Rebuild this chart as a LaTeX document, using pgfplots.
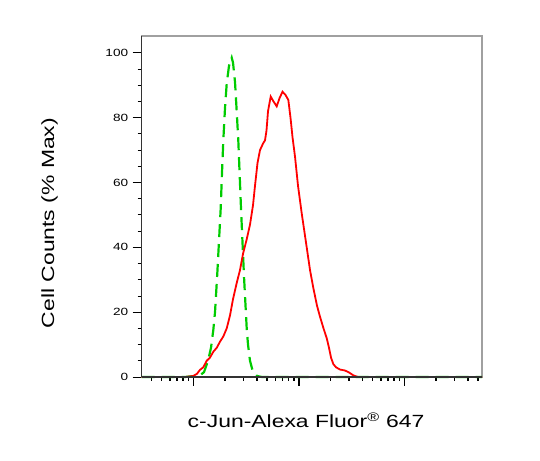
\documentclass[border=0pt]{standalone}
\usepackage{fontspec}
\setmainfont{Liberation Sans}[FakeStretch=1.3]
\usepackage{pgfplots}
\pgfplotsset{compat=1.18}
\definecolor{isogreen}{RGB}{0,204,0}
\definecolor{framegray}{RGB}{160,160,160}
\begin{document}
\begin{tikzpicture}[x=1bp,y=1bp]
\useasboundingbox (0,0) rectangle (540,461);
\begin{axis}[
  at={(141.7bp,84bp)}, anchor=origin,
  scale only axis, width=340.3bp, height=341bp,
  xmin=1.5109, xmax=4.7365, ymin=0, ymax=105.2,
  clip=false,
  axis line style={draw=framegray, line width=1.2pt},
  xtick={2,3,4},
  minor xtick={1.602,1.699,1.778,1.845,1.903,1.954,
    2.301,2.477,2.602,2.699,2.778,2.845,2.903,2.954,
    3.301,3.477,3.602,3.699,3.778,3.845,3.903,3.954,
    4.301,4.477,4.602,4.699},
  xticklabels={},
  ytick={0,20,40,60,80,100},
  minor ytick={5,10,15,25,30,35,45,50,55,65,70,75,85,90,95},
  tick align=outside,
  xtick pos=bottom, ytick pos=left,
  major tick length=9bp, minor tick length=4bp,
  every tick/.style={black, line width=0.9pt},
  x tick style={line width=1.6pt},
  every minor tick/.style={black, line width=0.9pt},
  /pgf/number format/assume math mode=true,
  yticklabel style={font=\fontsize{10.5}{12}\selectfont, xshift=-1bp},
]
\addplot[isogreen, line width=2.2bp, dash pattern=on 13bp off 7bp] coordinates {
(1.5109,0) (1.9213,0) (2.0635,0.5) (2.1014,1.5) (2.1393,5) (2.1678,9) (2.1896,14.5)
(2.2057,20) (2.2275,32) (2.2436,42) (2.2597,52) (2.2720,63) (2.2844,73) (2.3005,83)
(2.3166,90.5) (2.3384,96) (2.3640,98.5) (2.3763,97) (2.3953,91) (2.4095,83) (2.4265,73)
(2.4521,52) (2.4806,31) (2.5062,15) (2.5185,10) (2.5374,5) (2.5659,1.5) (2.6038,0.3)
(2.6512,0) (3.0114,0) (4.7365,0)
};
\addplot[red, line width=1.8bp] coordinates {
(1.5109,0) (1.9213,0) (2.0,0.3) (2.0351,1) (2.0635,2.2) (2.0948,3) (2.1270,5) (2.1583,6)
(2.1896,7.8) (2.2218,9) (2.2531,10.9) (2.2844,12.5) (2.3166,15) (2.3479,19) (2.3763,24)
(2.4114,29) (2.4427,33) (2.4711,38) (2.5062,42.5) (2.5374,47) (2.5659,53) (2.5848,59)
(2.6085,66) (2.6322,70) (2.6607,72) (2.6796,73) (2.6938,76) (2.7081,82) (2.7336,86.5)
(2.7602,85) (2.7905,83.5) (2.8171,86) (2.8455,88) (2.8739,87) (2.9005,85.5) (2.9213,80)
(2.9403,74) (2.9640,68) (2.9924,59) (3.0275,50.5) (3.0749,40) (3.1062,33) (3.1374,27.5)
(3.1725,22) (3.2009,18.6) (3.2341,15) (3.2645,12) (3.2863,9) (3.3052,6) (3.3270,4)
(3.3526,3) (3.3905,2.3) (3.4379,2) (3.4758,1.4) (3.5166,0.5) (3.5611,0) (4.7365,0)
};
\draw[black!80, line width=1.2pt] (rel axis cs:0,0) -- (rel axis cs:0,1);
\draw[black!80, line width=1.2pt] (rel axis cs:0,0) -- (rel axis cs:1,0);
\end{axis}
\node[anchor=base, font=\fontsize{17.7}{20}\selectfont] at (306,33.3) {c-Jun-Alexa Fluor\textsuperscript{®} 647};
\node[anchor=base, rotate=90, font=\fontsize{17.7}{20}\selectfont] at (54,238) {Cell Counts (\% Max)};
\end{tikzpicture}
\end{document}
